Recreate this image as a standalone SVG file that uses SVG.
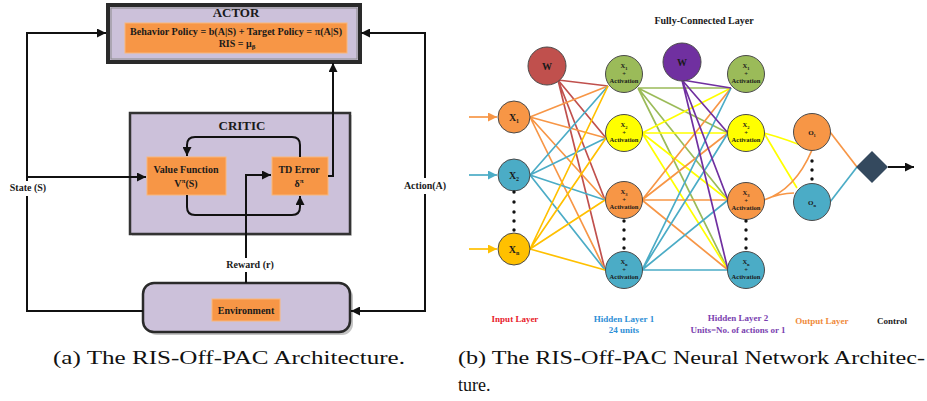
<svg xmlns="http://www.w3.org/2000/svg" width="927" height="401" viewBox="0 0 927 401">
<style>
text{font-family:"Liberation Serif","Times New Roman",serif;font-weight:bold;fill:#1a1a1a;text-anchor:middle}
.cap{font-weight:normal;text-anchor:start;font-size:18px;fill:#111}
.conn{fill:none;stroke:#111;stroke-width:2}
.ob{fill:#f79646;stroke:#f9b77a;stroke-width:1}
.node{stroke:#4a4a4a;stroke-width:1}
.e{stroke-width:1.7;fill:none}
.r{stroke:#c0504d}.o{stroke:#f79646}.b{stroke:#4bacc6}.g{stroke:#ffc000}
.gr{stroke:#9bbb59}.y{stroke:#ffff00}.p{stroke:#7030a0}
.hl{font-size:6.5px}
.dot{fill:#111}
</style>
<defs>
<marker id="ah" viewBox="0 0 10 10" refX="10" refY="5" markerWidth="9" markerHeight="9" orient="auto" markerUnits="userSpaceOnUse"><path d="M0,0 L10,5 L0,10 z" fill="#111"/></marker>
<marker id="aho" viewBox="0 0 10 10" refX="10" refY="5" markerWidth="9" markerHeight="9" orient="auto" markerUnits="userSpaceOnUse"><path d="M0,0 L10,5 L0,10 z" fill="#f79646"/></marker>
<marker id="ahb" viewBox="0 0 10 10" refX="10" refY="5" markerWidth="9" markerHeight="9" orient="auto" markerUnits="userSpaceOnUse"><path d="M0,0 L10,5 L0,10 z" fill="#4bacc6"/></marker>
<marker id="ahg" viewBox="0 0 10 10" refX="10" refY="5" markerWidth="9" markerHeight="9" orient="auto" markerUnits="userSpaceOnUse"><path d="M0,0 L10,5 L0,10 z" fill="#ffc000"/></marker>
</defs>
<rect width="927" height="401" fill="#fff"/>

<!-- LEFT PANEL -->
<g id="actor">
<rect x="108" y="5" width="252" height="57" fill="#ccc1da" stroke="#2a2a2a" stroke-width="4"/>
<rect x="111" y="8" width="246" height="51" fill="none" stroke="#8a8a8a" stroke-width="1"/>
<text x="236" y="17" font-size="13">ACTOR</text>
<rect class="ob" x="125" y="23" width="222" height="30"/>
<text x="236" y="35" font-size="10" textLength="212" lengthAdjust="spacingAndGlyphs">Behavior Policy = b(A|S)  + Target Policy = π(A|S)</text>
<text x="237" y="47" font-size="10">RIS = μ<tspan font-size="7" dy="2">β</tspan></text>
</g>

<g id="critic">
<rect x="132" y="115" width="220" height="121" fill="#9a9a9a" opacity="0.4"/>
<rect x="130" y="113" width="220" height="121" fill="#ccc1da" stroke="#333" stroke-width="2.5"/>
<text x="242" y="130" font-size="13">CRITIC</text>
</g>

<g id="value-function">
<rect class="ob" x="147" y="157" width="79" height="38"/>
<text x="186" y="173" font-size="10">Value Function</text>
<text x="186" y="187" font-size="10">V<tspan font-size="7" dy="-4">π</tspan><tspan dy="4">(S)</tspan></text>
</g>

<g id="td-error">
<rect class="ob" x="272" y="157" width="56" height="38"/>
<text x="299" y="173" font-size="10">TD Error</text>
<text x="299" y="187" font-size="10">δ<tspan font-size="7" dy="-4">π</tspan></text>
</g>

<g id="environment">
<rect x="146" y="286" width="207" height="49" rx="11" fill="#8a8a8a" opacity="0.5"/>
<rect x="143" y="283" width="207" height="49" rx="11" fill="#ccc1da" stroke="#2a2a2a" stroke-width="2.5"/>
<rect class="ob" x="212" y="299" width="68" height="22"/>
<text x="246" y="314" font-size="10">Environment</text>
</g>

<g id="connectors-a">
<path class="conn" d="M143,311 H27 V196"/>
<path class="conn" d="M27,181 V33 H106" marker-end="url(#ah)"/>
<path class="conn" d="M27,177 H146" marker-end="url(#ah)"/>
<path class="conn" d="M425,194 V311 H351" marker-end="url(#ah)"/>
<path class="conn" d="M425,178 V33 H361" marker-end="url(#ah)"/>
<path class="conn" d="M246,283 V272"/>
<path class="conn" d="M246,258 V175 H271" marker-end="url(#ah)"/>
<path class="conn" d="M328,176 H333 V63" marker-end="url(#ah)"/>
<path class="conn" d="M300,157 V145 Q300,137 292,137 H195 Q187,137 187,145 V156" marker-end="url(#ah)"/>
<path class="conn" d="M187,195 V207 Q187,215 195,215 H292 Q300,215 300,207 V196" marker-end="url(#ah)"/>
</g>
<text x="28" y="191" font-size="10">State (S)</text>
<text x="425" y="189" font-size="10">Action(A)</text>
<text x="250" y="268" font-size="10">Reward (r)</text>

<!-- RIGHT PANEL -->
<text x="704" y="24" font-size="10">Fully-Connected Layer</text>

<g id="connectors-b">
<line x1="469" y1="117" x2="497" y2="117" class="e o" stroke-width="2" marker-end="url(#aho)"/>
<line x1="469" y1="175" x2="497" y2="175" class="e b" stroke-width="2" marker-end="url(#ahb)"/>
<line x1="469" y1="249" x2="497" y2="249" class="e g" stroke-width="2" marker-end="url(#ahg)"/>
<path class="e r" d="M558,80 L608,86 M558,80 L606,138 M558,80 L605,200 M558,80 L605,270"/>
<path class="e o" d="M530,117 L608,86 M530,117 L606,138 M530,117 L605,200 M530,117 L605,270"/>
<path class="e b" d="M530,175 L608,86 M530,175 L606,138 M530,175 L605,200 M530,175 L605,270"/>
<path class="e g" d="M530,249 L608,86 M530,249 L606,138 M530,249 L605,200 M530,249 L605,270"/>
<path class="e gr" d="M638,88 L731,88 M638,88 L728,133 M638,88 L728,200 M638,88 L728,270"/>
<path class="e y" d="M642,133 L731,88 M642,133 L728,133 M642,133 L728,200 M642,133 L728,270"/>
<path class="e o" d="M642,200 L731,88 M642,200 L728,133 M642,200 L728,200 M642,200 L728,270"/>
<path class="e b" d="M642,270 L731,88 M642,270 L728,133 M642,270 L728,200 M642,270 L728,270"/>
<path class="e p" d="M682,80 L731,88 M682,80 L728,133 M682,80 L728,200 M682,80 L728,270"/>
<path class="e y" d="M764,133 Q790,140 812,150 M764,133 Q780,160 797,188"/>
<path class="e o" d="M764,200 Q795,190 812,150 M764,200 Q780,193 794,193"/>
<path class="e o" d="M830,132 L857,167"/>
<path class="e b" d="M830,202 L857,167"/>
<line x1="888" y1="167" x2="914" y2="167" class="conn" marker-end="url(#ah)"/>
</g>

<g id="w1"><circle class="node" cx="547" cy="66" r="19" fill="#c0504d"/><text x="547" y="70" font-size="10">W</text></g>
<g id="x1"><circle class="node" cx="514" cy="117" r="16" fill="#f79646"/><text x="514" y="121" font-size="10">X<tspan font-size="6" dy="2">1</tspan></text></g>
<g id="x2"><circle class="node" cx="514" cy="175" r="16" fill="#4bacc6"/><text x="514" y="179" font-size="10">X<tspan font-size="6" dy="2">2</tspan></text></g>
<g id="xn"><circle class="node" cx="514" cy="249" r="16" fill="#ffc000"/><text x="514" y="253" font-size="10">X<tspan font-size="6" dy="2">n</tspan></text></g>
<g id="in-dots"><circle class="dot" cx="514" cy="192" r="1.7"/><circle class="dot" cx="514" cy="202" r="1.7"/><circle class="dot" cx="514" cy="212" r="1.7"/><circle class="dot" cx="514" cy="221" r="1.7"/><circle class="dot" cx="514" cy="230" r="1.7"/></g>

<g id="h1-1"><circle class="node" cx="624" cy="74" r="18.5" fill="#9bbb59"/><text class="hl" x="624" y="68">X<tspan font-size="4.5" dy="1.5">1</tspan></text><text class="hl" x="624" y="76">+</text><text class="hl" x="624" y="83">Activation</text></g>
<g id="h1-2"><circle class="node" cx="624" cy="133" r="18.5" fill="#ffff00"/><text class="hl" x="624" y="127">X<tspan font-size="4.5" dy="1.5">2</tspan></text><text class="hl" x="624" y="135">+</text><text class="hl" x="624" y="142">Activation</text></g>
<g id="h1-3"><circle class="node" cx="624" cy="200" r="18.5" fill="#f79646"/><text class="hl" x="624" y="194">X<tspan font-size="4.5" dy="1.5">3</tspan></text><text class="hl" x="624" y="202">+</text><text class="hl" x="624" y="209">Activation</text></g>
<g id="h1-4"><circle class="node" cx="624" cy="270" r="18.5" fill="#4bacc6"/><text class="hl" x="624" y="264">X<tspan font-size="4.5" dy="1.5">n</tspan></text><text class="hl" x="624" y="272">+</text><text class="hl" x="624" y="279">Activation</text></g>
<g id="h1-dots"><circle class="dot" cx="624" cy="221" r="1.7"/><circle class="dot" cx="624" cy="230" r="1.7"/><circle class="dot" cx="624" cy="239" r="1.7"/><circle class="dot" cx="624" cy="248" r="1.7"/></g>

<g id="w2"><circle class="node" cx="682" cy="62" r="19" fill="#7030a0"/><text x="682" y="66" font-size="10">W</text></g>

<g id="h2-1"><circle class="node" cx="746" cy="74" r="18.5" fill="#9bbb59"/><text class="hl" x="746" y="68">X<tspan font-size="4.5" dy="1.5">1</tspan></text><text class="hl" x="746" y="76">+</text><text class="hl" x="746" y="83">Activation</text></g>
<g id="h2-2"><circle class="node" cx="746" cy="133" r="18.5" fill="#ffff00"/><text class="hl" x="746" y="127">X<tspan font-size="4.5" dy="1.5">2</tspan></text><text class="hl" x="746" y="135">+</text><text class="hl" x="746" y="142">Activation</text></g>
<g id="h2-3"><circle class="node" cx="746" cy="201" r="18.5" fill="#f79646"/><text class="hl" x="746" y="195">X<tspan font-size="4.5" dy="1.5">3</tspan></text><text class="hl" x="746" y="203">+</text><text class="hl" x="746" y="210">Activation</text></g>
<g id="h2-4"><circle class="node" cx="746" cy="270" r="18.5" fill="#4bacc6"/><text class="hl" x="746" y="264">X<tspan font-size="4.5" dy="1.5">n</tspan></text><text class="hl" x="746" y="272">+</text><text class="hl" x="746" y="279">Activation</text></g>
<g id="h2-dots"><circle class="dot" cx="746" cy="221" r="1.7"/><circle class="dot" cx="746" cy="230" r="1.7"/><circle class="dot" cx="746" cy="239" r="1.7"/><circle class="dot" cx="746" cy="248" r="1.7"/></g>

<g id="o1"><circle class="node" cx="812" cy="132" r="18.5" fill="#f79646"/><text x="812" y="135" font-size="7">O<tspan font-size="4.5" dy="1.5">1</tspan></text></g>
<g id="on"><circle class="node" cx="812" cy="202" r="18.5" fill="#4bacc6"/><text x="812" y="205" font-size="7">O<tspan font-size="4.5" dy="1.5">n</tspan></text></g>
<g id="o-dots"><circle class="dot" cx="812" cy="161" r="1.7"/><circle class="dot" cx="812" cy="170" r="1.7"/><circle class="dot" cx="812" cy="179" r="1.7"/></g>

<g id="control"><path d="M872,151 L888,167 L872,183 L856,167 Z" fill="#34495e"/></g>

<g id="layer-labels">
<text x="515" y="322" font-size="9" style="fill:#e8202a">Input Layer</text>
<text x="624" y="322" font-size="9" style="fill:#2e8fd6">Hidden Layer 1</text>
<text x="624" y="333" font-size="9" style="fill:#2e8fd6">24 units</text>
<text x="738" y="321" font-size="9" style="fill:#7a3fb0">Hidden Layer 2</text>
<text x="738" y="333" font-size="9" style="fill:#7a3fb0">Units=No. of actions or 1</text>
<text x="822" y="324" font-size="9" style="fill:#f08a3a">Output Layer</text>
<text x="892" y="324" font-size="9">Control</text>
</g>

<text class="cap" x="53" y="364" textLength="352" lengthAdjust="spacingAndGlyphs">(a) The RIS-Off-PAC Architecture.</text>
<text class="cap" x="458" y="364" textLength="467" lengthAdjust="spacingAndGlyphs">(b) The RIS-Off-PAC Neural Network Architec-</text>
<text class="cap" x="458" y="391">ture.</text>
</svg>
